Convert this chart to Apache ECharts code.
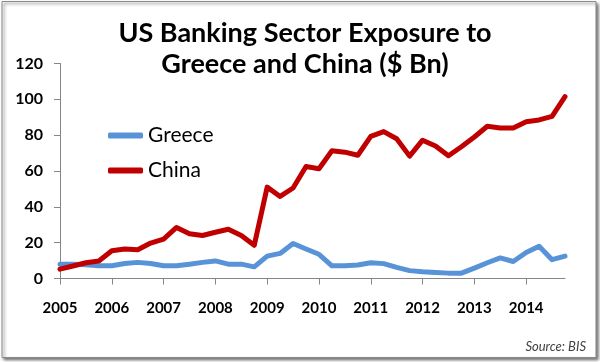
<!DOCTYPE html>
<html>
<head>
<meta charset="utf-8">
<script src="https://cdn.jsdelivr.net/npm/echarts@6/dist/echarts.min.js"></script>
<style>
html,body{margin:0;padding:0;background:#fff;}
#chart{width:600px;height:362px;}
</style>
</head>
<body>
<div id="chart"></div>
<script>
// Quarterly categories 2005Q1 .. 2014Q4
const years = ['2005','2006','2007','2008','2009','2010','2011','2012','2013','2014'];
const quarters = [];
years.forEach(y => { for (let q = 1; q <= 4; q++) quarters.push(y + 'Q' + q); });

const greece = [
  8.0, 8.0, 7.7, 7.1,
  7.1, 8.4, 9.0, 8.4,
  7.1, 7.1, 8.0, 9.0,
  9.8, 8.0, 8.0, 6.5,
  12.5, 14.0, 19.5, 16.5,
  13.5, 7.1, 7.1, 7.5,
  8.8, 8.3, 6.2, 4.4,
  3.8, 3.4, 3.0, 3.0,
  5.8, 8.8, 11.5, 9.5,
  14.5, 18.0, 10.5, 12.5
];
const china = [
  5.2, 7.0, 8.8, 9.8,
  15.5, 16.5, 16.0, 19.8,
  22.0, 28.5, 25.0, 24.0,
  25.8, 27.5, 24.0, 18.5,
  51.0, 45.8, 50.5, 62.5,
  61.3, 71.3, 70.5, 68.8,
  79.3, 82.0, 78.0, 68.3,
  77.2, 74.0, 68.5, 73.5,
  79.0, 85.0, 84.0, 84.0,
  87.5, 88.5, 90.5, 101.5
];
const yTicks = [0, 20, 40, 60, 80, 100, 120];

const chart = echarts.init(document.getElementById('chart'), null, {renderer: 'canvas'});
const FONT = 'Lato';
chart.setOption({
  animation: false,
  backgroundColor: '#fff',
  graphic: [{
    type: 'rect', z: -10, silent: true,
    shape: {x: 2, y: 1.5, width: 594, height: 356},
    style: {fill: '#fff', stroke: '#8a8a8a', lineWidth: 1,
      shadowBlur: 3, shadowOffsetX: 2, shadowOffsetY: 2, shadowColor: 'rgba(0,0,0,0.55)'}
  }, {
    type: 'text', right: 14, top: 340, silent: true,
    style: {text: 'Source: BIS', font: 'italic 13px ' + FONT, fill: '#404040'}
  }],
  title: {
    text: 'US Banking Sector Exposure to\nGreece and China ($ Bn)',
    left: 300, top: 13, textAlign: 'center',
    textStyle: {fontFamily: FONT, fontWeight: 'bold', fontSize: 27, lineHeight: 31, color: '#000'}
  },
  legend: {
    orient: 'vertical', left: 103, top: 120,
    itemWidth: 35, itemHeight: 6, itemGap: 14,
    textStyle: {fontFamily: FONT, fontSize: 21, color: '#000'},
    data: [
      {name: 'Greece', icon: 'roundRect'},
      {name: 'China', icon: 'roundRect'}
    ]
  },
  grid: {left: 60, right: 35, top: 63.5, bottom: 83.5},
  xAxis: {
    type: 'category', data: quarters, boundaryGap: false,
    axisLine: {lineStyle: {color: '#868686', width: 1}},
    axisTick: {show: true, length: 6, interval: (i) => i % 4 === 0, lineStyle: {color: '#868686'}},
    axisLabel: {
      interval: (i) => i % 4 === 0, margin: 22,
      formatter: (v) => v.slice(0, 4),
      fontFamily: FONT, fontWeight: 'bold', fontSize: 15, color: '#000'
    },
    splitLine: {show: false}
  },
  yAxis: {
    type: 'value', min: 0, max: 120, interval: 20,
    axisLine: {show: true, lineStyle: {color: '#868686', width: 1}},
    axisTick: {show: true, length: 6, lineStyle: {color: '#868686'}},
    axisLabel: {
      margin: 17, fontFamily: FONT, fontWeight: 'bold', fontSize: 16, color: '#000',
      formatter: (v) => yTicks.indexOf(v) >= 0 ? String(v) : ''
    },
    splitLine: {show: false}
  },
  series: [
    {
      name: 'Greece', type: 'line', data: greece, showSymbol: false, symbol: 'none',
      lineStyle: {color: '#5893D8', width: 5, cap: 'round', join: 'round'},
      itemStyle: {color: '#5893D8'}, z: 2
    },
    {
      name: 'China', type: 'line', data: china, showSymbol: false, symbol: 'none',
      lineStyle: {color: '#C00000', width: 5, cap: 'round', join: 'round'},
      itemStyle: {color: '#C00000'}, z: 3
    }
  ]
});
</script>
</body>
</html>
